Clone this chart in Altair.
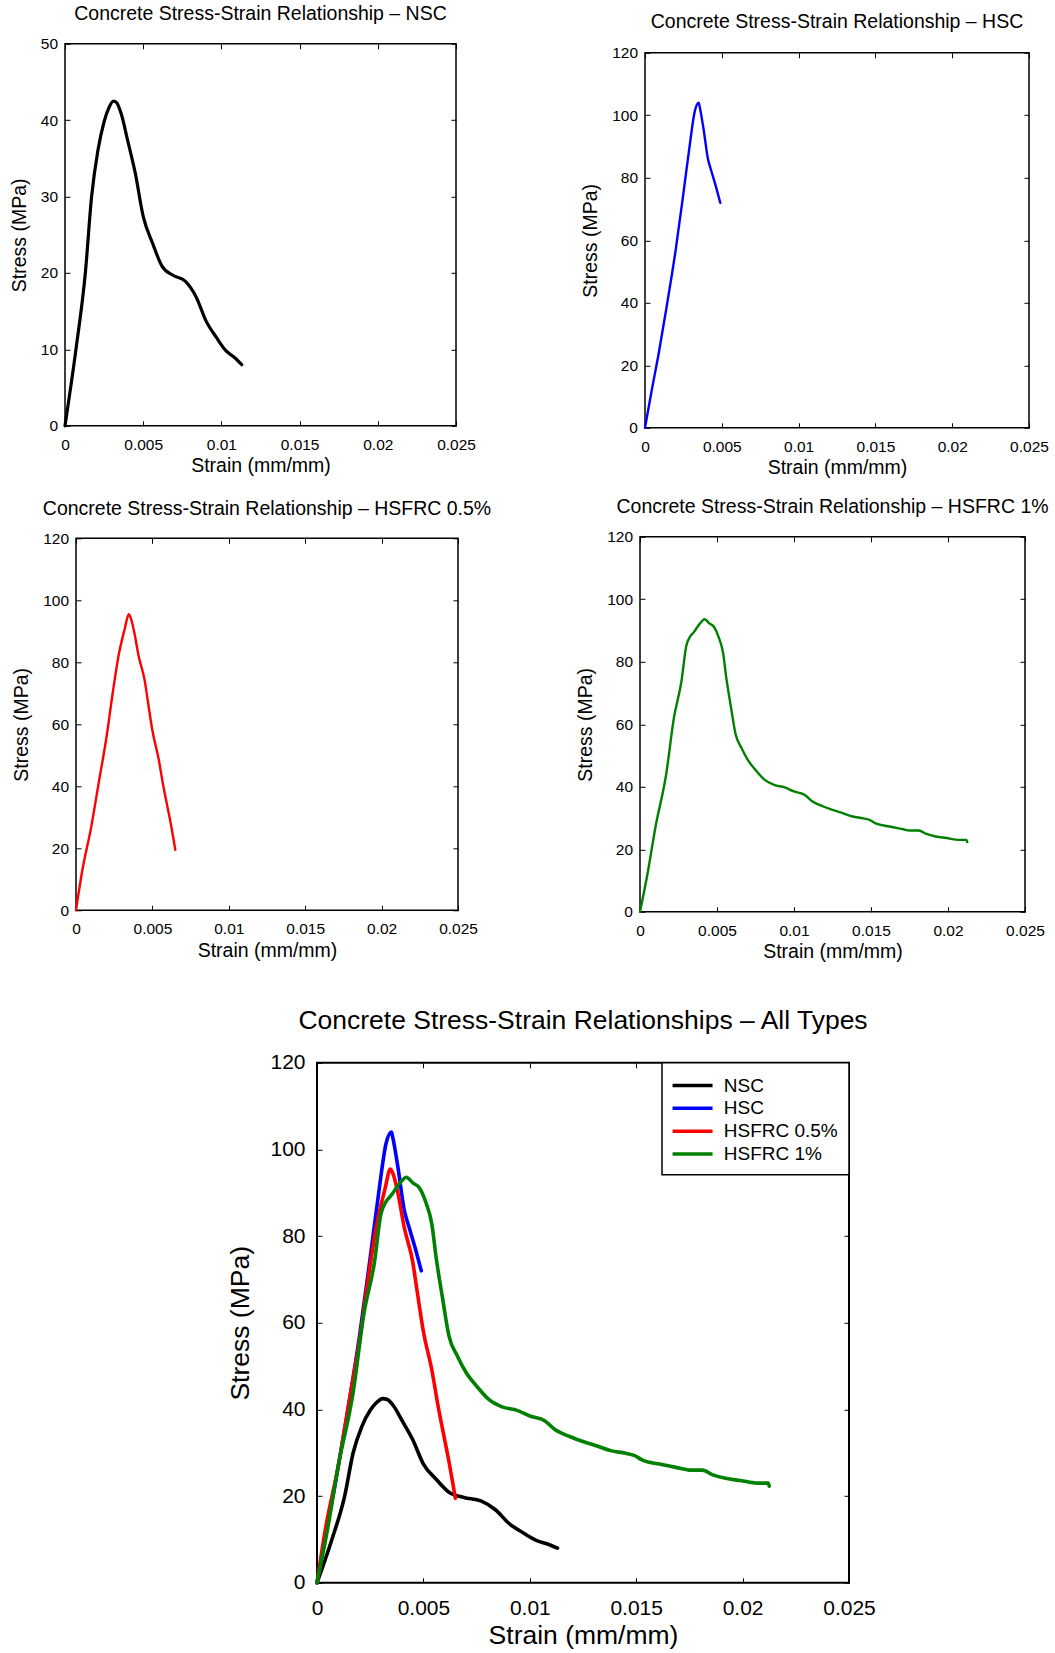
import altair as alt
import pandas as pd

FONT = "Liberation Sans"

# ---------------- data ----------------
X_TICKS = [0, 0.005, 0.01, 0.015, 0.02, 0.025]
Y_TICKS_NSC = [0, 10, 20, 30, 40, 50]
Y_TICKS_HS = [0, 20, 40, 60, 80, 100, 120]

SERIES = ["NSC", "HSC", "HSFRC 0.5%", "HSFRC 1%"]
COLORS = ["#000000", "#0000ff", "#ff0000", "#008000"]

NSC_STRAIN = [0, 0.0007, 0.0013, 0.0017, 0.0021, 0.0025, 0.0028, 0.0031, 0.0033,
              0.0036, 0.0040, 0.0045, 0.0050, 0.0056, 0.0062, 0.0069, 0.0077,
              0.0084, 0.0090, 0.0097, 0.0103, 0.0108, 0.0113]
NSC_STRESS = [0, 10, 20, 30, 36, 39.8, 41.6, 42.5, 42.3, 40.8, 37.4, 33.0, 27.4,
              23.9, 20.9, 19.7, 18.9, 16.8, 13.8, 11.5, 9.8, 9.0, 8.0]

HSC_STRAIN = [0, 0.0004, 0.0009, 0.0014, 0.0020, 0.0025, 0.0029, 0.00325, 0.0035,
              0.00355, 0.0038, 0.0041, 0.0043, 0.0046, 0.0049]
HSC_STRESS = [0, 11, 24, 38.5, 57, 75, 90, 101.5, 104, 103, 96, 86, 82.5, 77.5, 72]

F05_STRAIN = [0, 0.0004, 0.0010, 0.0015, 0.0020, 0.0024, 0.0028, 0.0032, 0.00345,
              0.0036, 0.0038, 0.0041, 0.0045, 0.0047, 0.0050, 0.0054, 0.0057,
              0.0060, 0.0062, 0.0065]
F05_STRESS = [0, 12.5, 27, 41.5, 56, 70, 82.5, 91, 95.5, 94, 90, 82, 74, 67.5, 58,
              49, 40.5, 33, 28, 19.5]

F1_STRAIN = [0, 0.0005, 0.0010, 0.0017, 0.0022, 0.0027, 0.0030, 0.00325, 0.0035,
             0.0039, 0.0042, 0.0045, 0.0048, 0.0051, 0.0054, 0.0056, 0.0059, 0.0062,
             0.0066, 0.0070, 0.0075, 0.0081, 0.0087, 0.0094, 0.0100, 0.0107, 0.0112,
             0.0119, 0.0125, 0.0132, 0.0138, 0.0145, 0.0149, 0.0153, 0.0162, 0.0171,
             0.0175, 0.0181, 0.0186, 0.0192, 0.0199, 0.0207, 0.0212, 0.02125]
F1_STRESS = [0, 12.5, 27, 44, 62, 74, 85, 88, 89.5, 92.3, 93.6, 92.3, 91.2, 88,
             82.7, 75, 65.7, 57, 52.3, 48.6, 45.4, 42.2, 40.6, 39.8, 38.5, 37.4,
             35.3, 33.7, 32.6, 31.5, 30.5, 29.9, 29.4, 28.3, 27.3, 26.4, 26.0, 26.0,
             24.9, 24.1, 23.6, 23.0, 23.0, 22.3]


def frame(strain, stress, name):
    return pd.DataFrame({"strain": strain, "stress": stress,
                         "series": name, "i": list(range(len(strain)))})


df_nsc = frame(NSC_STRAIN, NSC_STRESS, SERIES[0])
df_hsc = frame(HSC_STRAIN, HSC_STRESS, SERIES[1])
df_f05 = frame(F05_STRAIN, F05_STRESS, SERIES[2])
df_f1 = frame(F1_STRAIN, F1_STRESS, SERIES[3])
df_all = pd.concat([df_nsc, df_hsc, df_f05, df_f1], ignore_index=True)

TK = 5  # inward tick length

SMALL = dict(lab=15.5, tit=19.5, ttl=19.5, xlp=11.5, xtp=4, ylp=7.5, ytp=11, frame=1.5)
BIG = dict(lab=21, tit=26.5, ttl=26.5, xlp=15, xtp=4, ylp=12, ytp=15, frame=2)


def panel(df, title, ymax, yticks, w, h, sz, title_offset, sw, color=None, legend=False):
    xs = alt.Scale(domain=[0, 0.025], nice=False, zero=False)
    ys = alt.Scale(domain=[0, ymax], nice=False, zero=False)
    common = dict(tickSize=TK, tickColor="black", tickWidth=1, domain=False, grid=False,
                  labelFont=FONT, labelColor="black", labelFontSize=sz["lab"],
                  labelFlush=False, labelOverlap=False, titleFont=FONT,
                  titleFontWeight="normal", titleColor="black", titleFontSize=sz["tit"],
                  offset=-TK, minExtent=0)
    ax_b = alt.Axis(orient="bottom", values=X_TICKS, format="~g", labelPadding=sz["xlp"],
                    title="Strain (mm/mm)", titlePadding=sz["xtp"], **common)
    ax_l = alt.Axis(orient="left", values=yticks, format="d", labelPadding=sz["ylp"],
                    title="Stress (MPa)", titlePadding=sz["ytp"], **common)
    ax_t = alt.Axis(orient="top", values=X_TICKS, labels=False, title=None,
                    maxExtent=0, **common)
    ax_r = alt.Axis(orient="right", values=yticks, labels=False, title=None,
                    maxExtent=0, **common)

    enc = dict(
        x=alt.X("strain:Q", scale=xs, axis=ax_b),
        y=alt.Y("stress:Q", scale=ys, axis=ax_l),
        order=alt.Order("i:Q"),
    )
    line_style = dict(strokeWidth=sw, strokeJoin="round", strokeCap="round",
                      interpolate="monotone")
    if legend:
        enc["color"] = alt.Color(
            "series:N",
            scale=alt.Scale(domain=SERIES, range=COLORS),
            sort=SERIES,
            legend=alt.Legend(orient="top-right", offset=0, title=None,
                              symbolType="M-2,0L2,0", symbolSize=400,
                              symbolStrokeWidth=3.5, labelFontSize=19, labelFont=FONT,
                              labelColor="black", padding=10.75, rowPadding=0.8,
                              symbolOffset=7.8, labelOffset=19.25, strokeColor="black",
                              fillColor="white", cornerRadius=0),
        )
        base = alt.Chart(df).mark_line(**line_style).encode(**enc)
    else:
        base = alt.Chart(df).mark_line(color=color, **line_style).encode(**enc)
    mirror = alt.Chart(df).mark_line(opacity=0).encode(
        x=alt.X("strain:Q", scale=xs, axis=ax_t),
        y=alt.Y("stress:Q", scale=ys, axis=ax_r),
        order=alt.Order("i:Q"),
    )
    return alt.layer(base, mirror).resolve_axis(x="independent", y="independent").properties(
        width=w, height=h,
        view=alt.ViewBackground(stroke="black", strokeWidth=sz["frame"]),
        title=alt.TitleParams(text=title, font=FONT, fontSize=sz["ttl"], fontWeight="normal",
                              color="black", anchor="middle", frame="group",
                              baseline="alphabetic", offset=title_offset),
    )


def spacer(w, h):
    return alt.Chart(pd.DataFrame({"a": [0]})).mark_point(opacity=0).encode(
        x=alt.value(0), y=alt.value(0)
    ).properties(width=w, height=h, view=alt.ViewBackground(stroke="transparent"))


p1 = panel(df_nsc, "Concrete Stress-Strain Relationship \u2013 NSC", 50, Y_TICKS_NSC,
           391, 382, SMALL, -2.5, 3.2, color=COLORS[0])
p2 = panel(df_hsc, "Concrete Stress-Strain Relationship \u2013 HSC", 120, Y_TICKS_HS,
           384, 375, SMALL, -2.2, 2.4, color=COLORS[1])
p3 = panel(df_f05, "Concrete Stress-Strain Relationship \u2013 HSFRC 0.5%", 120, Y_TICKS_HS,
           382, 372, SMALL, -2.8, 2.4, color=COLORS[2])
p4 = panel(df_f1, "Concrete Stress-Strain Relationship \u2013 HSFRC 1%", 120, Y_TICKS_HS,
           385, 375, SMALL, -2.5, 2.4, color=COLORS[3])
p5 = panel(df_all, "Concrete Stress-Strain Relationships \u2013 All Types", 120, Y_TICKS_HS,
           532, 520, BIG, -4, 3.6, legend=True)

col2 = alt.VConcatChart(vconcat=[spacer(1, 8.6), p2], spacing=0, bounds="flush")
row1 = alt.HConcatChart(hconcat=[p1, spacer(188.3, 1), col2], spacing=0, bounds="flush")
row2 = alt.HConcatChart(hconcat=[spacer(11, 1), p3, spacer(182, 1), p4], spacing=0,
                        bounds="flush", center=True)
row3 = alt.HConcatChart(hconcat=[spacer(251.3, 1), p5], spacing=0, bounds="flush"
                        ).resolve_scale(color="independent").resolve_legend(color="independent")

chart = alt.VConcatChart(
    vconcat=[row1, spacer(1, 11.3), row2, spacer(1, 38.9), row3], spacing=0
).resolve_scale(color="independent").resolve_legend(color="independent").properties(
    padding={"left": 8, "top": 2.8, "right": 0, "bottom": 0},
    background="white",
).configure_view(stroke="black", strokeWidth=1.5).configure_legend(strokeWidth=1.5)

chart.save("out.html", embed_options={"renderer": "svg", "actions": False})
